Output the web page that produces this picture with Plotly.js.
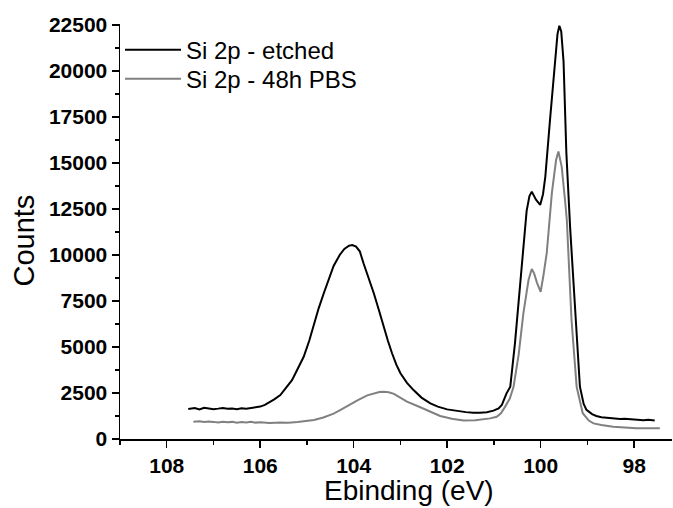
<!DOCTYPE html>
<html>
<head>
<meta charset="utf-8">
<script src="https://cdn.plot.ly/plotly-3.0.1.min.js"></script>
<style>html,body{margin:0;padding:0;background:#fff;}#chart{width:673px;height:508px;}</style>
</head>
<body>
<div id="chart"></div>
<script>
const etchedName = "Si 2p - etched";
const pbsName = "Si 2p - 48h PBS";
const xTitle = "Ebinding (eV)";
const yTitle = "Counts";

const etchedX = [107.54,107.4,107.3,107.2,107.1,107.0,106.9,106.8,106.7,106.6,106.5,106.4,106.3,106.2,106.1,106.0,105.9,105.8,105.7,105.57,105.45,105.32,105.2,105.07,104.95,104.85,104.75,104.64,104.53,104.43,104.3,104.2,104.1,104.03,103.95,103.87,103.79,103.68,103.57,103.46,103.36,103.27,103.18,103.09,103.0,102.86,102.72,102.55,102.36,102.2,102.0,101.8,101.6,101.44,101.3,101.15,101.01,100.9,100.83,100.73,100.65,100.55,100.44,100.37,100.3,100.24,100.19,100.1,100.01,99.95,99.9,99.8,99.69,99.64,99.6,99.56,99.51,99.45,99.37,99.29,99.22,99.16,99.08,99.02,98.9,98.81,98.7,98.6,98.45,98.3,98.2,98.09,97.95,97.8,97.7,97.56];
const etchedY = [1630,1680,1600,1700,1660,1620,1650,1690,1640,1660,1620,1670,1640,1680,1700,1760,1850,1980,2150,2390,2750,3200,3800,4470,5350,6290,7100,7920,8700,9400,10000,10330,10500,10540,10450,10200,9550,8750,7920,7000,6100,5350,4660,4050,3570,3050,2660,2250,1940,1760,1610,1520,1460,1430,1420,1450,1540,1660,1850,2480,2840,5200,8280,10270,12400,13200,13440,13000,12720,13300,14260,17340,20600,22000,22450,22150,20500,15540,11500,8280,5000,2840,1900,1580,1350,1250,1180,1150,1120,1080,1100,1070,1040,1020,1050,1000];

const pbsX = [107.43,107.3,107.2,107.1,107.0,106.9,106.8,106.7,106.6,106.5,106.4,106.3,106.2,106.1,106.0,105.8,105.57,105.4,105.2,105.0,104.85,104.65,104.43,104.28,104.14,103.92,103.71,103.55,103.45,103.36,103.25,103.14,103.0,102.86,102.6,102.36,102.15,101.9,101.65,101.4,101.2,101.08,100.94,100.85,100.76,100.66,100.58,100.47,100.37,100.26,100.19,100.14,100.08,100.0,99.94,99.87,99.76,99.67,99.62,99.55,99.48,99.44,99.34,99.23,99.1,98.97,98.87,98.7,98.45,98.2,97.95,97.7,97.45];
const pbsY = [940,960,920,950,930,900,940,910,930,880,920,900,930,890,910,870,890,880,920,960,1030,1170,1380,1580,1800,2100,2370,2500,2550,2570,2540,2450,2250,2030,1750,1480,1250,1100,1000,1020,1080,1120,1210,1400,1760,2200,2840,4600,6830,8640,9240,9000,8500,8000,8900,10100,13370,15160,15620,14800,13000,11900,6470,2840,1400,1000,850,760,670,620,580,590,580];

const xTickVals = [108,106,104,102,100,98];
const yTickVals = [0,2500,5000,7500,10000,12500,15000,17500,20000,22500];

const font = "Arial, 'Liberation Sans', sans-serif";

const data = [
  {x: etchedX, y: etchedY, name: etchedName, type: "scatter", mode: "lines",
   line: {color: "#000000", width: 2}, legend: "legend"},
  {x: pbsX, y: pbsY, name: pbsName, type: "scatter", mode: "lines",
   line: {color: "#808080", width: 2}, legend: "legend2"}
];

const legendBase = {x: 0, xanchor: "left", yanchor: "middle", bgcolor: "rgba(0,0,0,0)",
  font: {family: font, size: 24, color: "#000"}, itemwidth: 56};

const layout = {
  width: 673, height: 508,
  margin: {l: 120, r: 1, t: 24, b: 69, pad: 0},
  paper_bgcolor: "#ffffff", plot_bgcolor: "#ffffff",
  font: {family: font, color: "#000000"},
  showlegend: true,
  legend: Object.assign({}, legendBase, {y: 0.937}),
  legend2: Object.assign({}, legendBase, {y: 0.867}),
  xaxis: {
    range: [109, 97.19], autorange: false,
    tickmode: "array", tickvals: xTickVals, ticktext: xTickVals.map(String),
    ticks: "outside", ticklen: 7, tickwidth: 1.5, tickcolor: "#000",
    minor: {dtick: 1, tick0: 0, ticks: "outside", ticklen: 4, tickwidth: 1.5, tickcolor: "#000", showgrid: false},
    showline: true, linecolor: "#000", linewidth: 1.5, showgrid: false, zeroline: false,
    tickfont: {family: font, size: 21, weight: "bold", color: "#000"},
    automargin: false
  },
  yaxis: {
    range: [0, 22550], autorange: false,
    tickmode: "array", tickvals: yTickVals, ticktext: yTickVals.map(String),
    ticks: "outside", ticklen: 7, tickwidth: 1.5, tickcolor: "#000",
    minor: {dtick: 1250, tick0: 0, ticks: "outside", ticklen: 4, tickwidth: 1.5, tickcolor: "#000", showgrid: false},
    showline: true, linecolor: "#000", linewidth: 1.5, showgrid: false, zeroline: false,
    tickfont: {family: font, size: 21, weight: "bold", color: "#000"},
    automargin: false
  },
  annotations: [
    {text: xTitle, xref: "paper", yref: "paper", x: 0.5236, y: -0.124, xanchor: "center", yanchor: "middle",
     showarrow: false, font: {family: font, size: 28, color: "#000"}},
    {text: yTitle, xref: "paper", yref: "paper", x: -0.173, y: 0.477, xanchor: "center", yanchor: "middle",
     textangle: -90, showarrow: false, font: {family: font, size: 29, color: "#000"}}
  ]
};

Plotly.newPlot("chart", data, layout, {displayModeBar: false, staticPlot: true});
</script>
</body>
</html>
